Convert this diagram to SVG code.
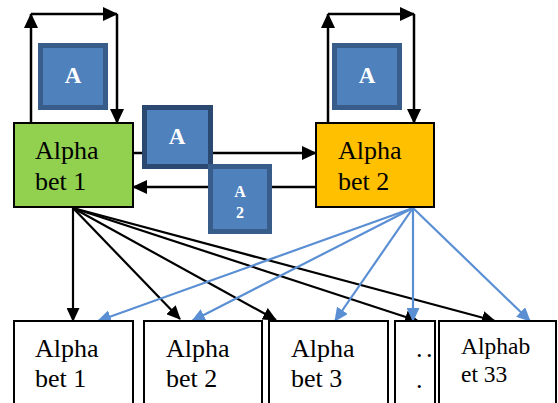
<svg xmlns="http://www.w3.org/2000/svg" width="558" height="403" viewBox="0 0 558 403">
  <style>
    .lbl { fill: #000; }
    .big { font-size: 26px; }
    .mid { font-size: 23.5px; }
    .tag { font-weight: bold; fill: #fff; text-anchor: middle; }
    .tagbox { fill: #4F81BD; stroke: #385D8A; stroke-width: 5; }
    .tagdark { fill: #4F81BD; stroke: #2A4870; stroke-width: 5; }
    .box { fill: #fff; stroke: #000; stroke-width: 2; }
    .k { fill: none; stroke: #000; stroke-width: 2.5; }
    .kb { fill: none; stroke: #000; stroke-width: 2.2; }
    .b { fill: none; stroke: #5B8FD4; stroke-width: 2.2; }
  </style>
  <defs>
    <marker id="ahBig" markerUnits="userSpaceOnUse" markerWidth="15" markerHeight="14" refX="14" refY="7" orient="auto" viewBox="0 0 15 14">
      <path d="M0,0 L15,7 L0,14 z" fill="#000"/>
    </marker>
    <marker id="ahK" markerUnits="userSpaceOnUse" markerWidth="14" markerHeight="13" refX="13" refY="6.5" orient="auto" viewBox="0 0 14 13">
      <path d="M0,0 L14,6.5 L0,13 z" fill="#000"/>
    </marker>
    <marker id="ahB" markerUnits="userSpaceOnUse" markerWidth="14" markerHeight="13" refX="13" refY="6.5" orient="auto" viewBox="0 0 14 13">
      <path d="M0,0 L14,6.5 L0,13 z" fill="#5B8FD4"/>
    </marker>
  </defs>

  <!-- connectors -->
  <g id="connectors">
    <!-- self loop on Alphabet 1 -->
    <path class="k" d="M31,123 V14" marker-end="url(#ahBig)"/>
    <path class="k" d="M31,14 H117" marker-end="url(#ahBig)"/>
    <path class="k" d="M117,14 V123" marker-end="url(#ahBig)"/>
    <!-- self loop on Alphabet 2 -->
    <path class="k" d="M328,123 V14" marker-end="url(#ahBig)"/>
    <path class="k" d="M328,14 H414" marker-end="url(#ahBig)"/>
    <path class="k" d="M414,14 V123" marker-end="url(#ahBig)"/>
    <!-- between the two upper nodes -->
    <path class="k" d="M133,153 H316" marker-end="url(#ahBig)"/>
    <path class="k" d="M316,187 H133" marker-end="url(#ahBig)"/>
    <!-- fan from Alphabet 1 -->
    <path class="kb" d="M73,208 L73,321" marker-end="url(#ahK)"/>
    <path class="kb" d="M73,208 L180,319" marker-end="url(#ahK)"/>
    <path class="kb" d="M73,208 L276,320" marker-end="url(#ahK)"/>
    <path class="kb" d="M73,208 L418,321" marker-end="url(#ahK)"/>
    <path class="kb" d="M73,208 L495,321" marker-end="url(#ahK)"/>
    <!-- fan from Alphabet 2 -->
    <path class="b" d="M413,208 L98,321" marker-end="url(#ahB)"/>
    <path class="b" d="M413,208 L192,321" marker-end="url(#ahB)"/>
    <path class="b" d="M413,208 L335,321" marker-end="url(#ahB)"/>
    <path class="b" d="M413,208 L413,321" marker-end="url(#ahB)"/>
    <path class="b" d="M413,208 L530,321" marker-end="url(#ahB)"/>
  </g>

  <g font-family="Liberation Serif, DejaVu Serif, serif">
  <!-- upper nodes -->
  <g id="alphabet1">
    <rect x="14" y="123" width="119" height="84" fill="#92D050" stroke="#000" stroke-width="2"/>
    <text class="lbl big" x="35" y="159">Alpha</text>
    <text class="lbl big" x="35" y="190">bet 1</text>
  </g>
  <g id="alphabet2">
    <rect x="316" y="123" width="118" height="84" fill="#FFC000" stroke="#000" stroke-width="2"/>
    <text class="lbl big" x="338" y="159">Alpha</text>
    <text class="lbl big" x="338" y="190">bet 2</text>
  </g>

  <!-- edge tags -->
  <g id="tag-loop1">
    <rect class="tagbox" x="40.5" y="45.5" width="65" height="62"/>
    <text class="tag" x="73" y="83" font-size="23">A</text>
  </g>
  <g id="tag-loop2">
    <rect class="tagbox" x="334.5" y="45.5" width="65" height="62"/>
    <text class="tag" x="367" y="83" font-size="23">A</text>
  </g>
  <g id="tag-forward">
    <rect class="tagdark" x="144.5" y="107.5" width="66" height="59"/>
    <text class="tag" x="177" y="144" font-size="23">A</text>
  </g>
  <g id="tag-back">
    <rect class="tagbox" x="210.5" y="166.5" width="59" height="65"/>
    <text class="tag" x="240" y="197" font-size="16">A</text>
    <text class="tag" x="240" y="218" font-size="16">2</text>
  </g>

  <!-- lower nodes -->
  <g id="lower1">
    <rect class="box" x="14" y="321" width="119" height="90"/>
    <text class="lbl big" x="35" y="357">Alpha</text>
    <text class="lbl big" x="35" y="387">bet 1</text>
  </g>
  <g id="lower2">
    <rect class="box" x="144" y="321" width="118" height="90"/>
    <text class="lbl big" x="166" y="357">Alpha</text>
    <text class="lbl big" x="166" y="387">bet 2</text>
  </g>
  <g id="lower3">
    <rect class="box" x="269" y="321" width="119" height="90"/>
    <text class="lbl big" x="291" y="357">Alpha</text>
    <text class="lbl big" x="291" y="387">bet 3</text>
  </g>
  <g id="lower-more">
    <rect class="box" x="395" y="321" width="40" height="90"/>
    <text class="lbl big" x="416" y="357" letter-spacing="3.5">..</text>
    <text class="lbl big" x="416" y="388">.</text>
  </g>
  <g id="lower33">
    <rect class="box" x="439" y="321" width="117" height="90"/>
    <text class="lbl mid" x="461" y="354">Alphab</text>
    <text class="lbl mid" x="461" y="382">et 33</text>
  </g>
  </g>
</svg>
